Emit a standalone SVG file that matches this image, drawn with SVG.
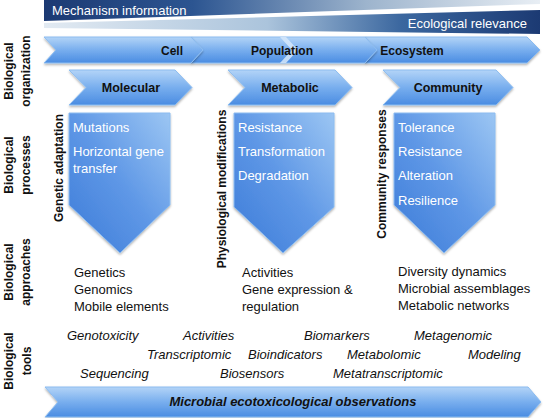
<svg xmlns="http://www.w3.org/2000/svg" width="544" height="418" viewBox="0 0 544 418">
<defs>
<linearGradient id="gTop" x1="0" y1="0" x2="1" y2="0">
<stop offset="0" stop-color="#1c3a73"/><stop offset="0.3" stop-color="#2c5591"/><stop offset="0.65" stop-color="#9db4cd"/><stop offset="1" stop-color="#e8eef4"/>
</linearGradient>
<linearGradient id="gBot" x1="0" y1="0" x2="1" y2="0">
<stop offset="0" stop-color="#e2eaf2"/><stop offset="0.45" stop-color="#abc4dc"/><stop offset="0.72" stop-color="#3b679f"/><stop offset="1" stop-color="#1c3a73"/>
</linearGradient>
<linearGradient id="gBand" x1="0" y1="0" x2="0" y2="1">
<stop offset="0" stop-color="#b3d4f7"/><stop offset="0.5" stop-color="#78aeee"/><stop offset="1" stop-color="#4a8ce2"/>
</linearGradient>
<linearGradient id="gCol" x1="0" y1="1" x2="1" y2="0">
<stop offset="0" stop-color="#3c7bd8"/><stop offset="0.5" stop-color="#5e97e6"/><stop offset="1" stop-color="#9cc6f3"/>
</linearGradient>
<filter id="sh" x="-10%" y="-10%" width="120%" height="130%">
<feDropShadow dx="0" dy="1.5" stdDeviation="1.2" flood-color="#000" flood-opacity="0.3"/>
</filter>
<style>
.band{fill:url(#gBand);stroke:#8cbcf0;stroke-width:1;filter:url(#sh)}
.col{fill:url(#gCol);stroke:#8cbcf0;stroke-width:1;filter:url(#sh)}
.lbl{font-family:"Liberation Sans",Arial,sans-serif;font-weight:bold;font-size:12px;fill:#111}
.hl{font-family:"Liberation Sans",Arial,sans-serif;font-weight:bold;font-size:12.5px;fill:#111;text-anchor:middle}
.wt{font-family:"Liberation Sans",Arial,sans-serif;font-size:13px;fill:#fff}
.ap{font-family:"Liberation Sans",Arial,sans-serif;font-size:13px;fill:#111}
.tl{font-family:"Liberation Sans",Arial,sans-serif;font-style:italic;font-size:13px;fill:#111}
.bn{font-family:"Liberation Sans",Arial,sans-serif;font-size:13px;fill:#fff}
.side{font-family:"Liberation Sans",Arial,sans-serif;font-weight:bold;font-size:12px;fill:#111;text-anchor:middle}
</style>
</defs>

<g id="banner">
<polygon points="44,0 540,0 540,4 44,21" fill="url(#gTop)"/>
<polygon points="44,23 540,10 540,34 44,28" fill="url(#gBot)"/>
<text class="bn" x="52" y="15">Mechanism information</text>
<text class="bn" x="527" y="28" text-anchor="end">Ecological relevance</text>
</g>

<g id="side-labels">
<text class="side" transform="translate(13,71) rotate(-90)">Biological</text>
<text class="side" transform="translate(30,71) rotate(-90)">organization</text>
<text class="side" transform="translate(13,165) rotate(-90)">Biological</text>
<text class="side" transform="translate(30,165) rotate(-90)">processes</text>
<text class="side" transform="translate(13,272) rotate(-90)">Biological</text>
<text class="side" transform="translate(30,272) rotate(-90)">approaches</text>
<text class="side" transform="translate(13,361) rotate(-90)">Biological</text>
<text class="side" transform="translate(31,361) rotate(-90)">tools</text>
</g>

<g id="ecosystem">
<polygon class="band" points="365,37 527,37 540,50 527,63 365,63 377,50"/>
<text class="lbl" x="412" y="55" text-anchor="middle">Ecosystem</text>
</g>
<g id="population">
<polygon class="band" points="191,37 365,37 377,50 365,63 191,63 203,50"/>
<polygon points="280,37 286,37 298,50 286,63 280,63 292,50" fill="#d6e8fa" opacity="0.85"/>
<text class="lbl" x="282" y="55" text-anchor="middle">Population</text>
</g>
<g id="cell">
<polygon class="band" points="44,37 191,37 203,50 191,63 44,63 56,50"/>
<text class="lbl" x="172" y="55" text-anchor="middle">Cell</text>
</g>

<g id="molecular">
<polygon class="band" points="69,70 175,70 192,87.5 175,105 69,105 86,87.5"/>
<text class="hl" x="131" y="92">Molecular</text>
</g>
<g id="metabolic">
<polygon class="band" points="228,70 335,70 352,87.5 335,105 228,105 245,87.5"/>
<text class="hl" x="290" y="92">Metabolic</text>
</g>
<g id="community">
<polygon class="band" points="383,70 496,70 513,87.5 496,105 383,105 400,87.5"/>
<text class="hl" x="448" y="92">Community</text>
</g>

<g id="genetic-adaptation">
<polygon class="col" points="69,113 170,113 170,205 120,253 69,205"/>
<text class="side" transform="translate(63,168) rotate(-90)">Genetic adaptation</text>
<text class="wt" x="73" y="132">Mutations</text>
<text class="wt" x="73" y="156">Horizontal gene</text>
<text class="wt" x="73" y="173">transfer</text>
</g>
<g id="physiological-modifications">
<polygon class="col" points="234,113 334,113 334,207 283,253 234,207"/>
<text class="side" transform="translate(226,189) rotate(-90)">Physiological modifications</text>
<text class="wt" x="238" y="132">Resistance</text>
<text class="wt" x="238" y="156">Transformation</text>
<text class="wt" x="238" y="180">Degradation</text>
</g>
<g id="community-responses">
<polygon class="col" points="394,113 495,113 495,205 444,253 394,205"/>
<text class="side" transform="translate(386,174) rotate(-90)">Community responses</text>
<text class="wt" x="398" y="132">Tolerance</text>
<text class="wt" x="398" y="156">Resistance</text>
<text class="wt" x="398" y="180">Alteration</text>
<text class="wt" x="398" y="205">Resilience</text>
</g>

<g id="approaches">
<text class="ap" x="74" y="277">Genetics</text>
<text class="ap" x="74" y="294">Genomics</text>
<text class="ap" x="74" y="311">Mobile elements</text>
<text class="ap" x="242" y="277">Activities</text>
<text class="ap" x="242" y="294">Gene expression &amp;</text>
<text class="ap" x="242" y="311">regulation</text>
<text class="ap" x="398" y="276">Diversity dynamics</text>
<text class="ap" x="398" y="293">Microbial assemblages</text>
<text class="ap" x="398" y="310">Metabolic networks</text>
</g>

<g id="tools">
<text class="tl" x="67" y="340">Genotoxicity</text>
<text class="tl" x="183" y="340">Activities</text>
<text class="tl" x="304" y="340">Biomarkers</text>
<text class="tl" x="414" y="340">Metagenomic</text>
<text class="tl" x="147" y="359">Transcriptomic</text>
<text class="tl" x="248" y="359">Bioindicators</text>
<text class="tl" x="347" y="359">Metabolomic</text>
<text class="tl" x="468" y="359">Modeling</text>
<text class="tl" x="80" y="378">Sequencing</text>
<text class="tl" x="220" y="378">Biosensors</text>
<text class="tl" x="333" y="378">Metatranscriptomic</text>
</g>

<g id="observations">
<polygon class="band" points="45,387 528,387 541,402 528,417 45,417 58,402"/>
<text x="293" y="406" text-anchor="middle" font-family="'Liberation Sans',Arial,sans-serif" font-weight="bold" font-style="italic" font-size="13px" fill="#111">Microbial ecotoxicological observations</text>
</g>

<g id="connectors"/>
</svg>
